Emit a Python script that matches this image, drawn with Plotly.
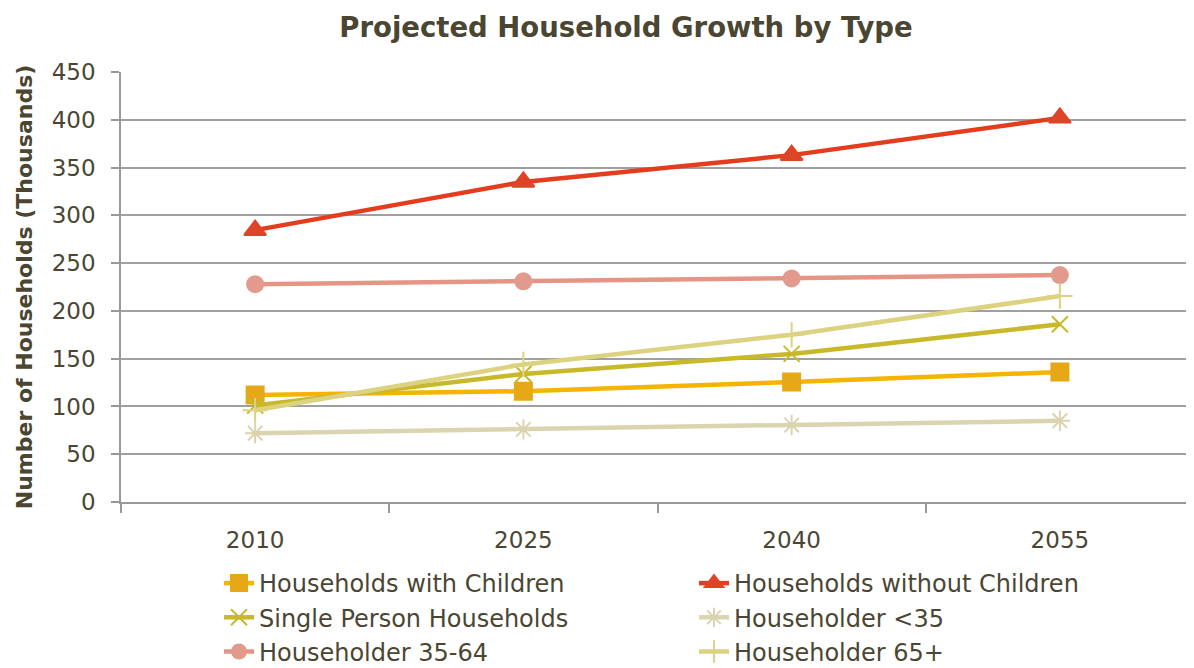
import plotly.graph_objects as go

years = ["2010", "2025", "2040", "2055"]
with_children = [112, 116, 125.5, 136]
without_children = [284.5, 335, 363, 402]
single_person = [101, 134, 155, 186]
under_35 = [72, 76, 80.5, 85]
age_35_64 = [228, 231, 234, 237.5]
age_65_plus = [96, 144, 175, 215.5]

y_ticks = [0, 50, 100, 150, 200, 250, 300, 350, 400, 450]

series = [
    ("Households with Children", with_children, "#F5B400", "square", "#E6A817", 17, 2),
    ("Households without Children", without_children, "#E43D1E", "triangle-up", "#DE4427", 19, 2),
    ("Single Person Households", single_person, "#C8B92A", "x-thin-open", "#C8B92A", 16, 2),
    ("Householder <35", under_35, "#DAD4B0", "asterisk-open", "#DAD4B0", 17, 2),
    ("Householder 35-64", age_35_64, "#E59585", "circle", "#E29A8C", 18, 0),
    ("Householder 65+", age_65_plus, "#DCD27F", "cross-thin-open", "#DCD27F", 18, 2),
]

fig = go.Figure()
for name, vals, color, sym, mcolor, msize, mlw in series:
    fig.add_trace(go.Scatter(
        x=years, y=vals, name=name, mode="lines+markers",
        line=dict(color=color, width=4.5),
        marker=dict(symbol=sym, size=msize, color=mcolor,
                    line=dict(color=mcolor, width=mlw)),
    ))

text_color = "#4A4632"
font_family = "'DejaVu Sans', sans-serif"

W, H = 1186, 660  # page body has an 8px margin

fig.update_layout(
    width=W, height=H,
    paper_bgcolor="white", plot_bgcolor="white",
    margin=dict(l=113, r=0, t=64, b=166, autoexpand=False),
    font=dict(family=font_family, color=text_color, size=22),
    title=dict(text="<b>Projected Household Growth by Type</b>",
               xref="container", x=618 / W, xanchor="center",
               yref="container", y=1 - 19 / H, yanchor="middle",
               font=dict(size=27.5, color=text_color, family=font_family)),
    xaxis=dict(
        type="category", range=[-0.5, 3.5], automargin=False,
        showline=True, linecolor="#999999", linewidth=1.5,
        ticks="outside", tickson="boundaries", ticklen=9, tickcolor="#999999", tickwidth=1.5,
        showgrid=False, tickfont=dict(size=23, color=text_color),
        ticklabelstandoff=17,
    ),
    yaxis=dict(
        range=[0, 450], tickvals=y_ticks, automargin=False,
        showline=True, linecolor="#999999", linewidth=1.5,
        ticks="outside", ticklen=8, tickcolor="#999999", tickwidth=1.5,
        showgrid=True, gridcolor="#A0A0A0", gridwidth=1.5,
        zeroline=False,
        tickfont=dict(size=23, color=text_color),
        ticklabelstandoff=11,
        title=dict(text="<b>Number of Households (Thousands)</b>",
                   font=dict(size=22, color=text_color), standoff=13),
    ),
    legend=dict(
        orientation="h", xref="container", x=211 / W, xanchor="left",
        yref="container", y=1 - 553 / H, yanchor="top",
        entrywidth=430, entrywidthmode="pixels",
        font=dict(size=24, color=text_color),
        tracegroupgap=0, itemwidth=30,
    ),
)

fig.write_html("out.html")
